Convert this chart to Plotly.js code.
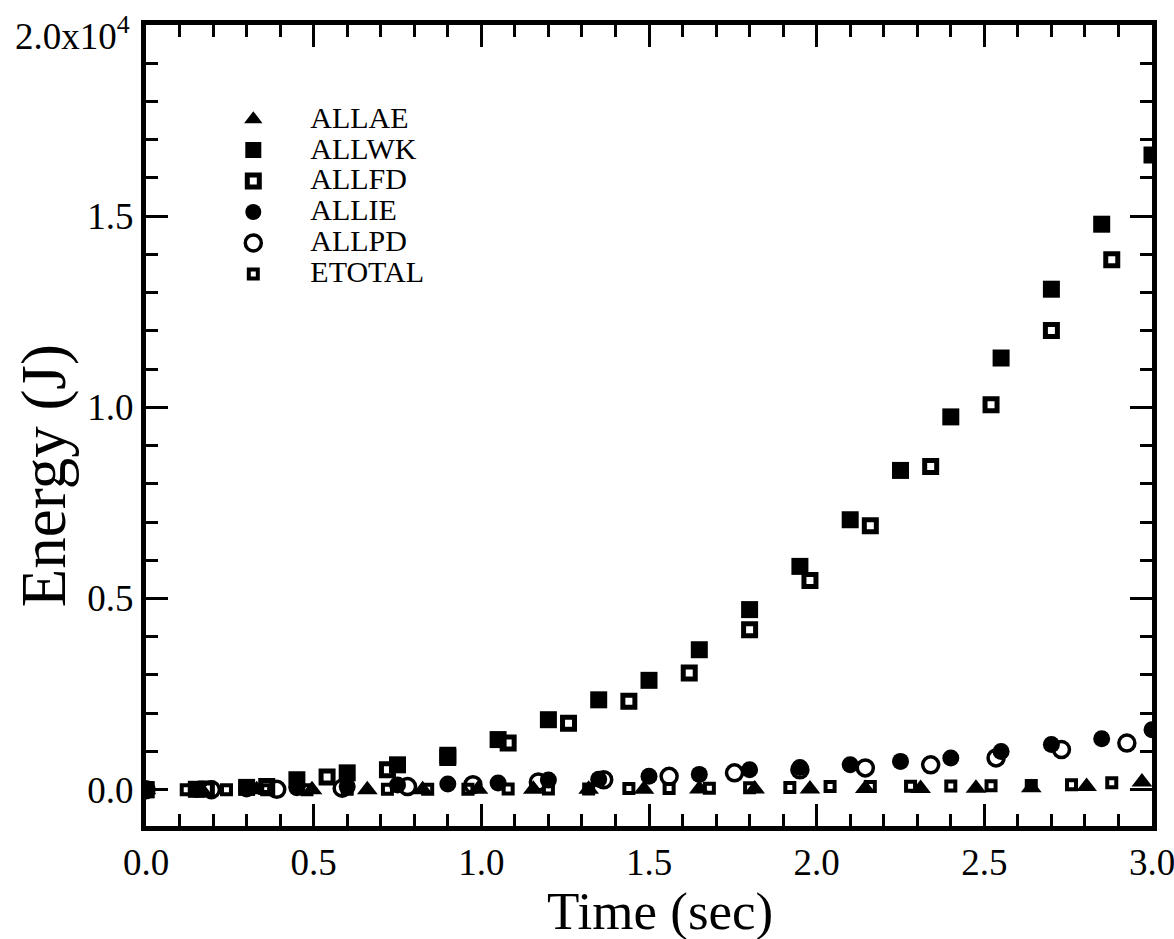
<!DOCTYPE html>
<html>
<head>
<meta charset="utf-8">
<script src="https://cdn.plot.ly/plotly-3.0.1.min.js"></script>
<style>html,body{margin:0;padding:0;background:#fff;}#chart{width:1174px;height:939px;}</style>
</head>
<body>
<div id="chart"></div>
<script>
// ALLAE (filled triangles)
var allaeTime = [0, 0.165, 0.33, 0.495, 0.66, 0.825, 0.99, 1.155, 1.32, 1.485, 1.65, 1.815, 1.98, 2.145, 2.31, 2.475, 2.64, 2.805, 2.97];
var allaeEnergy = [0, 0, 0, 0, 0, 0, 10, 10, 10, 10, 20, 20, 20, 30, 30, 40, 50, 80, 200];
// ALLWK (filled squares)
var allwkTime = [0, 0.15, 0.30, 0.45, 0.60, 0.75, 0.90, 1.05, 1.20, 1.35, 1.50, 1.65, 1.80, 1.95, 2.10, 2.25, 2.40, 2.55, 2.70, 2.85, 3.00];
var allwkEnergy = [0, 10, 60, 260, 440, 650, 900, 1310, 1830, 2350, 2860, 3660, 4710, 5840, 7060, 8350, 9750, 11290, 13090, 14790, 16600];
// ALLFD (open squares)
var allfdTime = [0, 0.18, 0.36, 0.54, 0.72, 0.90, 1.08, 1.26, 1.44, 1.62, 1.80, 1.98, 2.16, 2.34, 2.52, 2.70, 2.88];
var allfdEnergy = [0, 20, 80, 330, 520, 840, 1220, 1740, 2310, 3050, 4180, 5470, 6900, 8450, 10070, 12010, 13860];
// ALLIE (filled circles)
var allieTime = [0, 0.15, 0.30, 0.45, 0.60, 0.75, 0.90, 1.05, 1.20, 1.35, 1.50, 1.65, 1.80, 1.95, 2.10, 2.25, 2.40, 2.55, 2.70, 2.85, 3.00];
var allieEnergy = [0, 5, 20, 50, 80, 120, 150, 175, 250, 270, 350, 400, 520, 580, 650, 740, 830, 1000, 1180, 1330, 1570];
// ALLPD (open circles)
var allpdTime = [0, 0.195, 0.39, 0.585, 0.78, 0.975, 1.17, 1.365, 1.56, 1.755, 1.95, 2.145, 2.34, 2.535, 2.73, 2.925];
var allpdEnergy = [0, 0, 10, 40, 80, 130, 200, 260, 350, 440, 520, 570, 650, 830, 1050, 1220];
// ETOTAL (small open squares)
var etotalTime = [0, 0.12, 0.24, 0.36, 0.48, 0.60, 0.72, 0.84, 0.96, 1.08, 1.20, 1.32, 1.44, 1.56, 1.68, 1.80, 1.92, 2.04, 2.16, 2.28, 2.40, 2.52, 2.64, 2.76, 2.88];
var etotalEnergy = [0, 0, 0, 0, 0, 10, 10, 10, 10, 20, 20, 20, 30, 30, 40, 50, 60, 80, 85, 90, 95, 100, 110, 130, 180];

var xTickVals = [0, 0.5, 1.0, 1.5, 2.0, 2.5, 3.0];
var xTickText = ['0.0', '0.5', '1.0', '1.5', '2.0', '2.5', '3.0'];
var yTickVals = [0, 5000, 10000, 15000, 20000];
var yTickText = ['0.0', '0.5', '1.0', '1.5', '2.0x10<sup>4</sup>'];

var FONT = 'Liberation Serif, Times New Roman, serif';

function lbl(t) { return '<span style="font-size:30px">' + t + '</span>'; }

function tr(name, x, y, symbol, size, lw, rank) {
  return {
    type: 'scatter', mode: 'markers', name: lbl(name), x: x, y: y, legendrank: rank,
    marker: {symbol: symbol, size: size, color: '#000', line: {color: '#000', width: lw}}
  };
}

var data = [
  tr('ALLAE', allaeTime, allaeEnergy, 'triangle-up', 18, 0, 1),
  tr('ALLFD', allfdTime, allfdEnergy, 'square-open', 12, 5, 3),
  tr('ALLWK', allwkTime, allwkEnergy, 'square', 17, 0, 2),
  tr('ALLIE', allieTime, allieEnergy, 'circle', 17, 0, 4),
  tr('ALLPD', allpdTime, allpdEnergy, 'circle-open', 16, 3.5, 5),
  tr('ETOTAL', etotalTime, etotalEnergy, 'square-open', 9, 4, 6)
];

var axisCommon = {
  showline: true, linecolor: '#000', linewidth: 5, mirror: 'ticks',
  ticks: 'inside', ticklen: 22, tickwidth: 3, tickcolor: '#000',
  showgrid: false, zeroline: false, ticklabeloverflow: 'allow'
};

var nY = yTickVals.length - 1;  // top label drawn as annotation, a bit lower like the reference

var layout = {
  width: 1174, height: 939,
  margin: {l: 146, r: 22, t: 25, b: 113},
  paper_bgcolor: '#fff', plot_bgcolor: '#fff',
  font: {family: FONT, color: '#000'},
  showlegend: true,
  legend: {
    x: 0.05, y: 0.908, xanchor: 'left', yanchor: 'top',
    font: {family: FONT, size: 21.5, color: '#000'},
    bgcolor: 'rgba(0,0,0,0)', borderwidth: 0,
    itemwidth: 104, tracegroupgap: 0
  },
  xaxis: Object.assign({}, axisCommon, {
    range: [0, 3.0], tickvals: xTickVals, ticktext: xTickText,
    tickfont: {family: FONT, size: 37, color: '#000'},
    minor: {dtick: 0.1, tick0: 0, ticks: 'inside', ticklen: 12, tickwidth: 3, tickcolor: '#000', showgrid: false}
  }),
  yaxis: Object.assign({}, axisCommon, {
    range: [-950, 20000], tickvals: yTickVals, ticktext: yTickText.slice(0, nY).concat(['']),
    tickfont: {family: FONT, size: 37, color: '#000'},
    minor: {dtick: 1000, tick0: 0, ticks: 'inside', ticklen: 12, tickwidth: 3, tickcolor: '#000', showgrid: false}
  }),
  annotations: [
    {text: yTickText[nY], xref: 'paper', yref: 'y', x: -0.0135, y: yTickVals[nY], yshift: -8,
     xanchor: 'right', yanchor: 'middle', showarrow: false,
     font: {family: FONT, size: 37, color: '#000'}},
    {text: 'Time (sec)', xref: 'paper', yref: 'paper', x: 0.511, y: -0.107,
     xanchor: 'center', yanchor: 'middle', showarrow: false,
     font: {family: FONT, size: 53, color: '#000'}},
    {text: 'Energy (J)', xref: 'paper', yref: 'paper', x: -0.1014, y: 0.438,
     xanchor: 'center', yanchor: 'middle', showarrow: false, textangle: -90,
     font: {family: FONT, size: 63, color: '#000'}}
  ]
};

Plotly.newPlot('chart', data, layout, {displayModeBar: false, staticPlot: true});
</script>
</body>
</html>
